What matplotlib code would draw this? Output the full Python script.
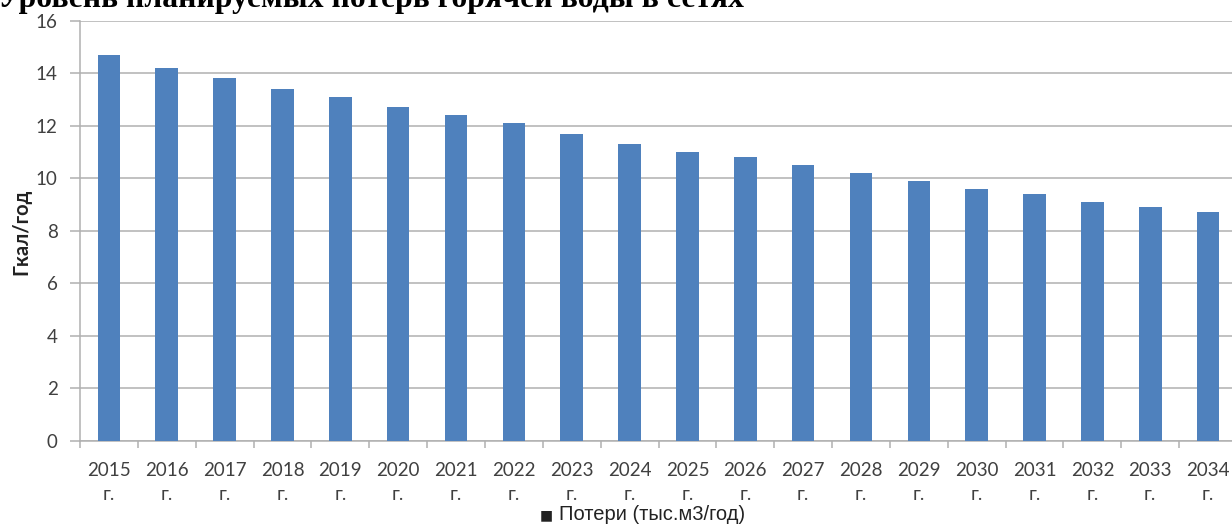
import matplotlib
matplotlib.use("Agg")
import matplotlib.pyplot as plt
import numpy as np

# ---- data ----
title_text = "Уровень планируемых потерь горячей воды в сетях"
years = [2015, 2016, 2017, 2018, 2019, 2020, 2021, 2022, 2023, 2024,
         2025, 2026, 2027, 2028, 2029, 2030, 2031, 2032, 2033, 2034]
losses = [14.7, 14.2, 13.8, 13.4, 13.1, 12.7, 12.4, 12.1, 11.7, 11.3,
          11.0, 10.8, 10.5, 10.2, 9.9, 9.6, 9.4, 9.1, 8.9, 8.7]
tick_labels = [f"{y}\nг." for y in years]
y_label = "Гкал/год"
series_name = "Потери (тыс.м3/год)"
y_ticks = [0, 2, 4, 6, 8, 10, 12, 14, 16]

W, H = 1232, 525
fig = plt.figure(figsize=(W / 100, H / 100), dpi=100)

ax_left, ax_right = 80, 1237
ax_top, ax_bot = 20.7, 440.7
ax = fig.add_axes([ax_left / W, 1 - ax_bot / H, (ax_right - ax_left) / W, (ax_bot - ax_top) / H])

x = np.arange(len(years))
bar_color = "#4F81BD"
grid_color = "#B0B0B0"
text_color = "#404040"

ax.bar(x, losses, width=0.39, color=bar_color, zorder=3)

ax.set_xlim(-0.5, len(years) - 0.5)
ax.set_ylim(0, 16)
ax.set_yticks(y_ticks)
ax.set_yticklabels([str(t) for t in y_ticks], fontfamily="Lato", fontsize=13.5, color=text_color)
ax.yaxis.grid(True, color=grid_color, linewidth=1.1, zorder=0)
ax.set_axisbelow(True)

ax.set_xticks(x)
ax.set_xticklabels(tick_labels, fontfamily="Lato", fontsize=13.5, color=text_color, linespacing=1.55)
ax.tick_params(axis="x", which="major", length=0, pad=15)
ax.set_xticks(np.arange(len(years) + 1) - 0.5, minor=True)
ax.tick_params(axis="x", which="minor", length=5, direction="out", color=grid_color, width=1.1)
ax.tick_params(axis="y", length=7, direction="out", color=grid_color, width=1.1, pad=9)

for s in ["top", "right"]:
    ax.spines[s].set_visible(False)
for s in ["left", "bottom"]:
    ax.spines[s].set_color(grid_color)
    ax.spines[s].set_linewidth(1.1)

# title (partially cut off at top)
fig.text(-0.002, 1 - 7.5 / H, title_text, fontfamily="Liberation Serif", fontweight="bold",
         fontsize=22.9, va="baseline", ha="left", color="black")

# y label
fig.text(21 / W, 1 - 232 / H, y_label, rotation=90, fontfamily="Lato", fontweight="bold",
         fontsize=14.5, va="center", ha="center", color="#222222")

# legend
fig.text(540 / W, 1 - 515 / H, "■", fontfamily="DejaVu Sans", fontsize=10, va="center", ha="left",
         color="#222222")
fig.text(559 / W, 1 - 515 / H, series_name, fontfamily="Liberation Sans", fontsize=14.5,
         va="center", ha="left", color="#222222")

fig.savefig("out.png", dpi=100)
